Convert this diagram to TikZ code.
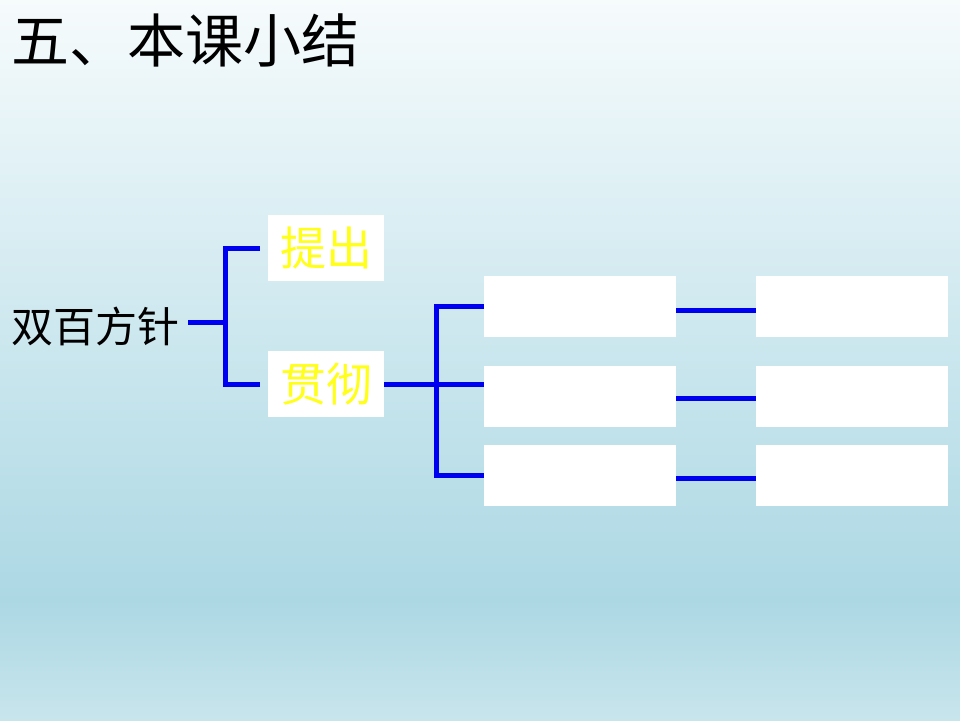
\documentclass[tikz,border=0pt]{standalone}
\usepackage{fontspec}
\setmainfont{Noto Sans CJK SC}
\usepackage{xcolor}
\usepackage{tikz}
\usetikzlibrary{positioning}
\definecolor{bgtop}{HTML}{F6FBFC}
\definecolor{bgmid}{HTML}{ACD8E4}
\definecolor{bgbot}{HTML}{C8E5EC}
\definecolor{linkblue}{HTML}{0000F0}
\definecolor{labelyellow}{HTML}{FFFF1A}
\tikzset{
  card/.style={
    rectangle,
    fill=white,
    inner sep=0pt,
    minimum width=192pt,
    minimum height=61pt
  },
  keybox/.style={
    rectangle,
    fill=white,
    inner sep=0pt,
    minimum width=116pt,
    minimum height=66pt,
    text=labelyellow,
    font=\fontsize{46}{50}\selectfont
  },
  bline/.style={
    draw=linkblue,
    line width=5pt
  }
}

\begin{document}
\begin{tikzpicture}[x=1pt,y=-1pt]

% background
\useasboundingbox (0,0) rectangle (960,720);
\shade[top color=bgtop, bottom color=bgmid] (0,0) rectangle (960,600);
\shade[top color=bgmid, bottom color=bgbot] (0,600) rectangle (960,720);

\node[anchor=west, inner sep=0pt, font=\fontsize{58}{62}\selectfont] (title) at (11,40) {五、本课小结};

\node[anchor=west, inner sep=0pt, font=\fontsize{42}{46}\selectfont] (policy) at (11,326) {双百方针};

\node[keybox] (propose) at (326,248) {提出};
\node[keybox, below=70pt of propose] (implement) {贯彻};

\node[card] (mida) at (580,306.5) {};
\node[card] (midb) at (580,396.5) {};
\node[card] (midc) at (580,475) {};

\node[card, right=80pt of mida] (righta) {};
\node[card, right=80pt of midb] (rightb) {};
\node[card, right=80pt of midc] (rightc) {};

\coordinate (forka) at (225,322);
\coordinate (forkb) at (436,384);
\coordinate (policyend) at (188,322);

\draw[bline] (policyend) -- (forka);
\draw[bline] ([xshift=-8pt]propose.west) -| (forka) |- ([xshift=-8pt]implement.west);
\draw[bline] (implement.east) -- (implement.east -| midb.west);
\draw[bline] (mida.west) -| (forkb) |- (midc.west);

\draw[bline] ([yshift=-4pt]mida.east) -- ([yshift=-4pt]mida.east -| righta.west);
\draw[bline] ([yshift=-2pt]midb.east) -- ([yshift=-2pt]midb.east -| rightb.west);
\draw[bline] ([yshift=-3pt]midc.east) -- ([yshift=-3pt]midc.east -| rightc.west);

\end{tikzpicture}
\end{document}
